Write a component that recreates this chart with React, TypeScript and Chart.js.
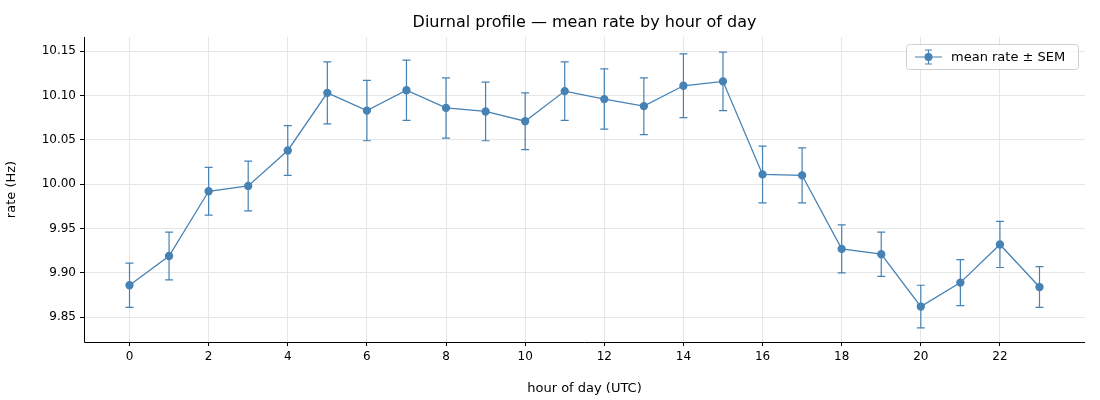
import React, { useEffect, useRef } from "react";
import { Chart, registerables } from "chart.js";
Chart.register(...registerables);

const hours = [0,1,2,3,4,5,6,7,8,9,10,11,12,13,14,15,16,17,18,19,20,21,22,23];
const meanRate = [9.886,9.919,9.992,9.998,10.038,10.103,10.083,10.106,10.086,10.082,10.071,10.105,10.096,10.088,10.111,10.116,10.011,10.010,9.927,9.921,9.862,9.889,9.932,9.884];
const sem = [0.025,0.027,0.027,0.028,0.028,0.035,0.034,0.034,0.034,0.033,0.032,0.033,0.034,0.032,0.036,0.033,0.032,0.031,0.027,0.025,0.024,0.026,0.026,0.023];
const color = "#4682b4";
const font = "DejaVu Sans";

export default function App() {
  const ref = useRef<HTMLCanvasElement>(null);
  useEffect(() => {
    document.body.style.margin = "0";
    const errPlugin = {
      id: "err",
      beforeDatasetsDraw(chart: any) {
        const { ctx, scales } = chart;
        ctx.save();
        ctx.strokeStyle = color; ctx.lineWidth = 1.2;
        hours.forEach((h, i) => {
          const x = scales.x.getPixelForValue(h);
          const y1 = scales.y.getPixelForValue(meanRate[i] - sem[i]);
          const y2 = scales.y.getPixelForValue(meanRate[i] + sem[i]);
          ctx.beginPath();
          ctx.moveTo(x, y1); ctx.lineTo(x, y2);
          ctx.moveTo(x - 4, y1); ctx.lineTo(x + 4, y1);
          ctx.moveTo(x - 4, y2); ctx.lineTo(x + 4, y2);
          ctx.stroke();
        });
        ctx.restore();
      },
      afterDraw(chart: any) {
        const { ctx, chartArea } = chart;
        ctx.save();
        ctx.fillStyle = "#000"; ctx.font = `16px '${font}'`; ctx.textAlign = "center"; ctx.textBaseline = "middle";
        ctx.fillText("Diurnal profile — mean rate by hour of day", (chartArea.left + chartArea.right) / 2, 23);
        // spines
        ctx.strokeStyle = "#000"; ctx.lineWidth = 1;
        ctx.beginPath();
        ctx.moveTo(chartArea.left + 0.5, chartArea.top); ctx.lineTo(chartArea.left + 0.5, chartArea.bottom + 0.5);
        ctx.lineTo(chartArea.right, chartArea.bottom + 0.5); ctx.stroke();
        // legend
        const bx = 906.5, by = 44.5, bw = 172, bh = 25;
        ctx.fillStyle = "rgba(255,255,255,0.8)"; ctx.strokeStyle = "#d0d0d0";
        ctx.beginPath(); ctx.roundRect(bx, by, bw, bh, 3); ctx.fill(); ctx.stroke();
        const cy = by + bh / 2;
        ctx.strokeStyle = color; ctx.lineWidth = 1.2;
        ctx.beginPath(); ctx.moveTo(915, cy); ctx.lineTo(942, cy);
        ctx.moveTo(928.5, cy - 7); ctx.lineTo(928.5, cy + 7);
        ctx.moveTo(925, cy - 7); ctx.lineTo(932, cy - 7);
        ctx.moveTo(925, cy + 7); ctx.lineTo(932, cy + 7); ctx.stroke();
        ctx.fillStyle = color; ctx.beginPath(); ctx.arc(928.5, cy, 4, 0, Math.PI * 2); ctx.fill();
        ctx.fillStyle = "#000"; ctx.font = `13px '${font}'`; ctx.textAlign = "left";
        ctx.fillText("mean rate ± SEM", 951, cy + 1);
        ctx.restore();
      },
    };
    const chart = new Chart(ref.current!, {
      type: "line",
      data: {
        datasets: [{
          data: hours.map((h, i) => ({ x: h, y: meanRate[i] })),
          borderColor: color, backgroundColor: color, borderWidth: 1.3,
          pointRadius: 3.5, pointHoverRadius: 3.5, tension: 0,
        }],
      },
      options: {
        animation: false, responsive: false,
        layout: { padding: { top: 37, right: 15, left: 0, bottom: 0 } },
        plugins: { legend: { display: false }, tooltip: { enabled: false } },
        scales: {
          x: {
            type: "linear", min: -1.15, max: 24.15,
            afterFit: (s: any) => { s.height = 58; },
            ticks: { stepSize: 2, color: "#000", font: { family: font, size: 12 }, padding: 4,
              callback: (v: any) => (v % 2 === 0 && v >= 0 && v <= 22 ? String(v) : null) },
            afterBuildTicks: (s: any) => { s.ticks = [0,2,4,6,8,10,12,14,16,18,20,22].map(v => ({ value: v })); },
            grid: { color: "#e6e6e6", tickColor: "#000", tickLength: 4 },
            border: { display: false },
            title: { display: true, text: "hour of day (UTC)", color: "#000", font: { family: font, size: 13 }, padding: { top: 4 } },
          },
          y: {
            min: 9.822, max: 10.166,
            afterFit: (s: any) => { s.width = 84; },
            afterBuildTicks: (s: any) => { s.ticks = [9.85,9.9,9.95,10,10.05,10.1,10.15].map(v => ({ value: v })); },
            ticks: { color: "#000", font: { family: font, size: 12 }, padding: 4, callback: (v: any) => Number(v).toFixed(2) },
            grid: { color: "#e6e6e6", tickColor: "#000", tickLength: 4 },
            border: { display: false },
            title: { display: true, text: "rate (Hz)", color: "#000", font: { family: font, size: 13 }, padding: { bottom: 4 } },
          },
        },
      },
      plugins: [errPlugin],
    } as any);
    return () => chart.destroy();
  }, []);
  return <canvas ref={ref} width={1100} height={400} style={{ display: "block" }} />;
}
